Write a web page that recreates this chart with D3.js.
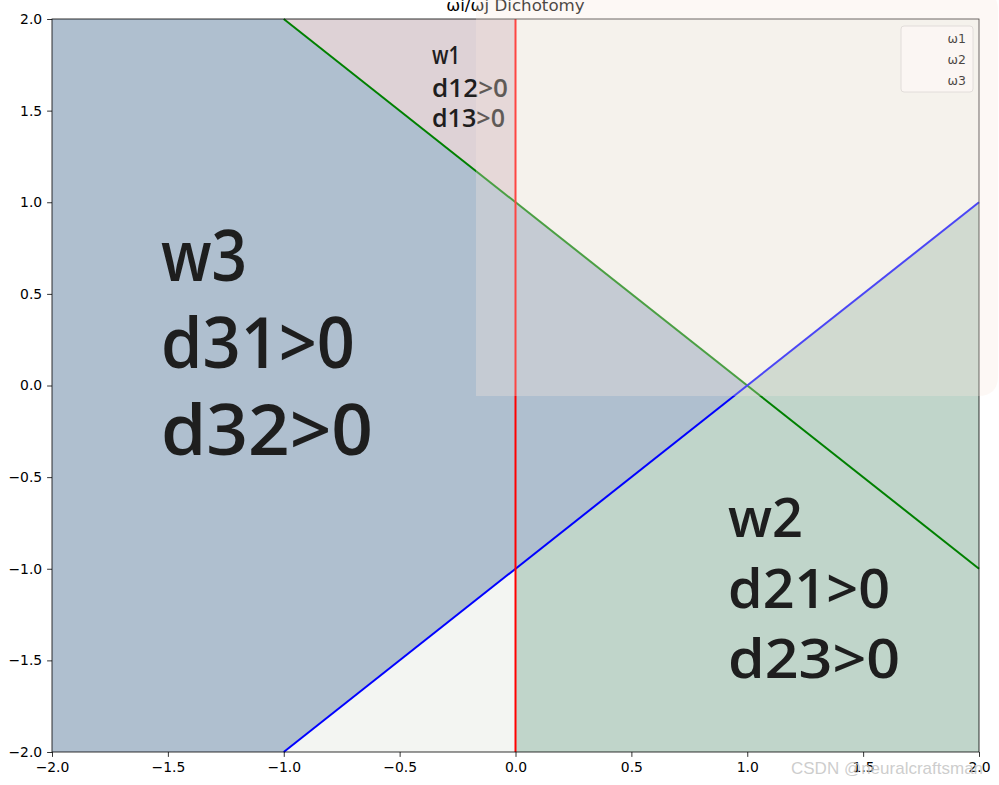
<!DOCTYPE html>
<html>
<head>
<meta charset="utf-8">
<script src="https://cdn.jsdelivr.net/npm/d3@7"></script>
<style>
  body { margin: 0; background: #fff; }
  svg { display: block; }
  .tick text { font-family: "DejaVu Sans", sans-serif; font-size: 13.9px; fill: #000; }
  .hand { font-family: "Open Sans", sans-serif; font-weight: 600; fill: #1e1e1e; }
</style>
</head>
<body>
<script>
var W = 999, H = 785;
var margin = {top: 19, right: 20, bottom: 33, left: 52},
    width = 979 - margin.left,
    height = 752 - margin.top;

// axis ticks
var xTicks = [-2.0, -1.5, -1.0, -0.5, 0.0, 0.5, 1.0, 1.5, 2.0];
var yTicks = [-2.0, -1.5, -1.0, -0.5, 0.0, 0.5, 1.0, 1.5, 2.0];

// decision regions (polygons in data coords)
var regionW3 = [[-2, 2], [-1, 2], [1, 0], [-1, -2], [-2, -2]];
var regionW1 = [[-1, 2], [0, 2], [0, 1]];
var regionW2 = [[0, -1], [2, 1], [2, -2], [0, -2]];
var regionUndefBottom = [[-1, -2], [0, -1], [0, -2]];
var regionUndefTop = [[0, 2], [2, 2], [2, 1], [1, 0], [0, 1]];

// boundary lines
var lineD13 = [[-1, 2], [2, -1]];   // green
var lineD23 = [[-1, -2], [2, 1]];   // blue
var lineD12 = [[0, -2], [0, 2]];    // red

var legendLabels = ["ω1", "ω2", "ω3"];

var notesW3 = ["w3", "d31>0", "d32>0"];
var notesW1 = ["w1", "d12>0", "d13>0"];
var notesW2 = ["w2", "d21>0", "d23>0"];

var svg = d3.select("body").append("svg")
    .attr("width", W)
    .attr("height", H);

var g = svg.append("g")
    .attr("transform", "translate(" + margin.left + "," + margin.top + ")");

var x = d3.scaleLinear().domain([-2, 2]).range([0, width]);
var y = d3.scaleLinear().domain([-2, 2]).range([height, 0]);

var poly = function(pts) {
    return "M" + pts.map(function(p) { return x(p[0]) + "," + y(p[1]); }).join("L") + "Z";
};
var line = d3.line().x(function(d) { return x(d[0]); }).y(function(d) { return y(d[1]); });

g.append("path").attr("d", poly(regionW3)).attr("fill", "#afbfcf");
g.append("path").attr("d", poly(regionW1)).attr("fill", "#ded2d6");
g.append("path").attr("d", poly(regionW2)).attr("fill", "#c0d5ca");
g.append("path").attr("d", poly(regionUndefBottom)).attr("fill", "#f3f5f2");
g.append("path").attr("d", poly(regionUndefTop)).attr("fill", "#f4f6f3");

g.append("path").datum(lineD13).attr("d", line)
    .attr("fill", "none").attr("stroke", "#008000").attr("stroke-width", 2);
g.append("path").datum(lineD23).attr("d", line)
    .attr("fill", "none").attr("stroke", "#0000ff").attr("stroke-width", 2);
g.append("path").datum(lineD12).attr("d", line)
    .attr("fill", "none").attr("stroke", "#ff0000").attr("stroke-width", 2);

// handwritten notes
function notes(lines, x0, baselines, size, widths) {
    lines.forEach(function(t, i) {
        g.append("text")
            .attr("class", "hand")
            .attr("x", x0 - margin.left)
            .attr("y", baselines[i] - margin.top)
            .attr("font-size", size)
            .attr("textLength", widths[i])
            .attr("lengthAdjust", "spacingAndGlyphs")
            .text(t);
    });
}
notes(notesW3, 161, [281, 368, 455], 70, [86, 194, 212]);
notes(notesW1, 432, [64, 97, 127], 25, [28, 76, 73]);
notes(notesW2, 728, [537, 608, 678], 54, [75, 162, 172]);

// axes
var fmt = d3.format(".1f");
var minus = function(d) { return fmt(d).replace("-", "\u2212"); };
g.append("g")
    .attr("transform", "translate(0," + height + ")")
    .call(d3.axisBottom(x).tickValues(xTicks).tickFormat(minus).tickSize(4.9).tickPadding(4.9))
    .call(function(s) { s.select(".domain").remove(); });
g.append("g")
    .call(d3.axisLeft(y).tickValues(yTicks).tickFormat(minus).tickSize(4.9).tickPadding(4.9))
    .call(function(s) { s.select(".domain").remove(); });
g.selectAll(".tick line").attr("stroke", "#000").attr("stroke-width", 0.8);
g.selectAll(".tick text").attr("fill", "#000");

g.append("rect")
    .attr("width", width).attr("height", height)
    .attr("fill", "none").attr("stroke", "#000").attr("stroke-width", 0.8);

// title
svg.append("text")
    .attr("x", margin.left + width / 2)
    .attr("y", 11)
    .attr("text-anchor", "middle")
    .attr("font-family", "DejaVu Sans, sans-serif")
    .attr("font-size", 16.7)
    .attr("fill", "#000")
    .text("ωi/ωj Dichotomy");

// legend (no handles)
var leg = svg.append("g");
leg.append("rect")
    .attr("x", 901).attr("y", 26).attr("width", 72).attr("height", 66)
    .attr("rx", 3).attr("fill", "#fff").attr("fill-opacity", 0.8)
    .attr("stroke", "#d8d8d8").attr("stroke-width", 1);
leg.selectAll("text").data(legendLabels).enter().append("text")
    .attr("x", 966)
    .attr("y", function(d, i) { return 43 + i * 21; })
    .attr("text-anchor", "end")
    .attr("font-family", "DejaVu Sans, sans-serif")
    .attr("font-size", 12.5)
    .attr("fill", "#000")
    .text(function(d) { return d; });

// translucent screenshot overlay
svg.append("path")
    .attr("d", "M476,-10 H978 Q998,-10 998,10 V376 Q998,396 978,396 H476 Z")
    .attr("fill", "rgb(248,233,222)")
    .attr("fill-opacity", 0.3);

// watermark
svg.append("text")
    .attr("x", 791)
    .attr("y", 774)
    .attr("font-family", "Liberation Sans, sans-serif")
    .attr("font-size", 17)
    .attr("fill", "#c4c4c4")
    .attr("fill-opacity", 0.85)
    .text("CSDN @neuralcraftsman");
</script>
</body>
</html>
